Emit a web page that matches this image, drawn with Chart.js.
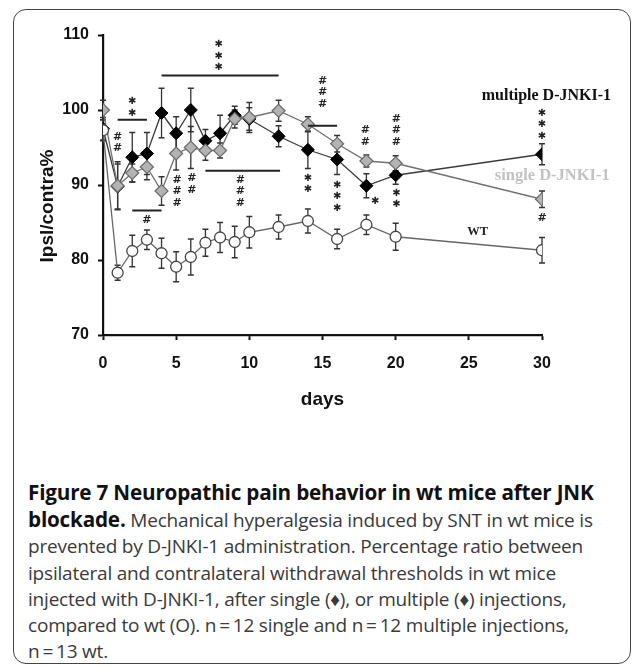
<!DOCTYPE html>
<html>
<head>
<meta charset="utf-8">
<script src="https://cdn.jsdelivr.net/npm/chart.js@4/dist/chart.umd.min.js"></script>
<style>
  body { margin:0; background:#fff; width:633px; height:668px; overflow:hidden; position:relative; }
  #frame { position:absolute; left:13px; top:9px; width:618px; height:655px; border:1.5px solid #444; border-radius:13px; box-sizing:border-box; }
  #myChart { position:absolute; left:0; top:0; }
  #caption { position:absolute; left:28px; top:479px; width:600px; font-family:"Open Sans","Noto Sans",sans-serif; font-size:19px; line-height:26.2px; color:#3a3a3a; white-space:nowrap; letter-spacing:-0.2px; }
  #caption b { color:#111; font-size:20.7px; }
</style>
</head>
<body>
<div id="frame"></div>
<canvas id="myChart" width="633" height="420"></canvas>
<div id="caption"><b>Figure 7 Neuropathic pain behavior in wt mice after JNK<br>blockade.</b> Mechanical hyperalgesia induced by SNT in wt mice is<br>prevented by D-JNKI-1 administration. Percentage ratio between<br>ipsilateral and contralateral withdrawal thresholds in wt mice<br>injected with D-JNKI-1, after single (&#9830;), or multiple (&#9830;) injections,<br>compared to wt (O). n&#8201;=&#8201;12 single and n&#8201;=&#8201;12 multiple injections,<br>n&#8201;=&#8201;13 wt.</div>
<script>
// data
const days = [0, 1, 2, 3, 4, 5, 6, 7, 8, 9, 10, 12, 14, 16, 18, 20, 30];
const multiple = [97.5, 89.8, 93.7, 94.2, 99.6, 96.9, 100, 95.9, 96.9, 99.3, 98.8, 96.5, 94.7, 93.4, 89.9, 91.3, 94.1];
const multipleErr = [1.5, 3.0, 3.3, 2.8, 3.3, 2.2, 2.9, 1.5, 2.4, 1.2, 1.5, 1.4, 2.5, 2.0, 1.6, 1.2, 1.4];
const single = [100, 89.9, 91.6, 92.4, 89.2, 94.2, 95.0, 94.6, 94.6, 98.8, 99.0, 99.9, 98.1, 95.5, 93.2, 92.9, 88.1];
const singleErr = [1.3, 3.2, 1.2, 1.7, 1.9, 2.2, 2.8, 1.3, 1.0, 1.2, 2.0, 1.4, 1.0, 1.1, 0.8, 1.0, 1.1];
const wt = [97.3, 78.3, 81.2, 82.7, 80.9, 79.1, 80.4, 82.3, 83.0, 82.4, 83.7, 84.4, 85.2, 82.8, 84.7, 83.1, 81.3];
const wtErr = [1.4, 1.0, 2.1, 1.3, 2.0, 2.0, 2.4, 1.8, 2.0, 2.1, 2.1, 1.6, 1.6, 1.3, 1.3, 1.8, 1.7];

const seriesNames = ['multiple D-JNKI-1', 'single D-JNKI-1', 'WT'];
const nameDay = [30.3, 30.7, 25.6];
const nameVal = [101.9, 91.3, 83.7];

// significance marks (stacked glyphs) and bars
const sigText = ['**', '***', '##', '#', '###', '##', '###', '**', '###', '***', '##', '*', '###', '**', '***', '#'];
const sigDay = [2, 7.9, 1, 3, 5.06, 6.08, 9.38, 14, 15, 16, 17.93, 18.6, 20.05, 20.05, 30, 30];
const sigTop = [101.1, 108.7, 96.4, 85.3, 90.7, 90.9, 90.7, 90.9, 103.9, 90, 97.3, 87.8, 98.8, 88.9, 99.6, 85.6];
const barFrom = [1, 4, 2, 7, 14];
const barTo = [3, 12, 4, 12.1, 16];
const barAt = [98.7, 104.6, 86.6, 91.9, 97.9];

const xTicks = [0, 5, 10, 15, 20, 25, 30];
const yTicks = [70, 80, 90, 100, 110];

const pts = (vals) => vals.map((v, i) => ({x: days[i], y: v}));

const extras = {
    id: 'extras',
    beforeDatasetsDraw(c) {
        const xs = c.scales.x, ys = c.scales.y, ctx = c.ctx;
        ctx.save();
        ctx.strokeStyle = '#333';
        ctx.lineWidth = 1.3;
        c.data.datasets.forEach((ds) => {
            ds.data.forEach((p, i) => {
                const e = ds.err[i];
                const px = xs.getPixelForValue(p.x);
                const y1 = ys.getPixelForValue(p.y + e), y2 = ys.getPixelForValue(p.y - e);
                ctx.beginPath();
                ctx.moveTo(px, y1); ctx.lineTo(px, y2);
                ctx.moveTo(px - 3, y1); ctx.lineTo(px + 3, y1);
                ctx.moveTo(px - 3, y2); ctx.lineTo(px + 3, y2);
                ctx.stroke();
            });
        });
        ctx.restore();
    },
    afterDatasetsDraw(c) {
        const xs = c.scales.x, ys = c.scales.y, ctx = c.ctx;
        ctx.save();
        // bars
        ctx.strokeStyle = '#222';
        ctx.lineWidth = 2;
        barFrom.forEach((f, i) => {
            const yy = ys.getPixelForValue(barAt[i]);
            ctx.beginPath();
            ctx.moveTo(xs.getPixelForValue(f), yy);
            ctx.lineTo(xs.getPixelForValue(barTo[i]), yy);
            ctx.stroke();
        });
        // stacked glyphs
        ctx.fillStyle = '#222';
        ctx.textAlign = 'center';
        ctx.textBaseline = 'middle';
        sigText.forEach((t, i) => {
            const px = xs.getPixelForValue(sigDay[i]);
            let py = ys.getPixelForValue(sigTop[i]);
            for (const ch of t) {
                if (ch === '*') {
                    ctx.font = 'bold 10px "DejaVu Sans"';
                    ctx.fillText('\u2731', px, py);
                } else {
                    ctx.font = 'bold 11px "DejaVu Sans"';
                    ctx.fillText(ch, px, py);
                }
                py += 11.5;
            }
        });
        // series names
        const nameFont = ['bold 16px "Liberation Serif"', 'bold 16.5px "Liberation Serif"', 'bold 12.5px "Liberation Serif"'];
        const nameCol = ['#111', '#c2c2c2', '#222'];
        seriesNames.forEach((n, i) => {
            ctx.font = nameFont[i];
            ctx.fillStyle = nameCol[i];
            ctx.fillText(n, xs.getPixelForValue(nameDay[i]), ys.getPixelForValue(nameVal[i]));
        });
        // y title
        ctx.translate(c.chartArea.left - 55, c.chartArea.top + 171);
        ctx.rotate(-Math.PI / 2);
        ctx.font = 'bold 19px "Liberation Sans"';
        ctx.fillStyle = '#111';
        ctx.fillText('Ipsl/contra%', 0, 0);
        ctx.restore();
    }
};

let myChart = document.getElementById('myChart').getContext('2d');

new Chart(myChart, {
    type: 'line',
    data: {
        datasets: [{
            label: seriesNames[2],
            data: pts(wt),
            err: wtErr,
            order: 0,
            borderColor: '#666',
            borderWidth: 1.3,
            pointStyle: 'circle',
            pointRadius: 5.5,
            pointBackgroundColor: '#fff',
            pointBorderColor: '#444',
            pointBorderWidth: 1.3
        }, {
            label: seriesNames[1],
            data: pts(single),
            err: singleErr,
            order: 1,
            borderColor: '#707070',
            borderWidth: 1.3,
            pointStyle: 'rectRot',
            pointRadius: 6.5,
            pointBackgroundColor: '#b3b3b3',
            pointBorderColor: '#6a6a6a',
            pointBorderWidth: 1.2
        }, {
            label: seriesNames[0],
            data: pts(multiple),
            err: multipleErr,
            order: 2,
            borderColor: '#3a3a3a',
            borderWidth: 1.3,
            pointStyle: 'rectRot',
            pointRadius: 6.5,
            pointBackgroundColor: '#000',
            pointBorderColor: '#000',
            pointBorderWidth: 1
        }]
    },
    options: {
        responsive: false,
        animation: false,
        layout: { padding: { top: 35, right: 91, left: 0, bottom: 0 } },
        plugins: { legend: { display: false }, tooltip: { enabled: false } },
        elements: { line: { tension: 0 } },
        scales: {
            x: {
                type: 'linear',
                min: 0, max: 30,
                afterFit: (s) => { s.height = 85; },
                afterBuildTicks: (s) => { s.ticks = xTicks.map(v => ({value: v})); },
                grid: { drawOnChartArea: false, drawTicks: true, tickLength: 5, tickWidth: 2, tickColor: '#111' },
                border: { display: true, color: '#111', width: 2.2 },
                ticks: { padding: 14, color: '#111', font: { family: 'Liberation Sans', weight: 'bold', size: 16 } },
                title: { display: true, text: 'days', color: '#111', padding: { top: 4, bottom: 9 }, font: { family: 'Liberation Sans', weight: 'bold', size: 19 } }
            },
            y: {
                min: 70, max: 110,
                afterFit: (s) => { s.width = 103; },
                afterBuildTicks: (s) => { s.ticks = yTicks.map(v => ({value: v})); },
                grid: { drawOnChartArea: false, drawTicks: true, tickLength: 5, tickWidth: 2, tickColor: '#111' },
                border: { display: true, color: '#111', width: 2.2 },
                ticks: { padding: 9, color: '#111', font: { family: 'Liberation Sans', weight: 'bold', size: 16 } }
            }
        }
    },
    plugins: [extras]
});
</script>
</body>
</html>
